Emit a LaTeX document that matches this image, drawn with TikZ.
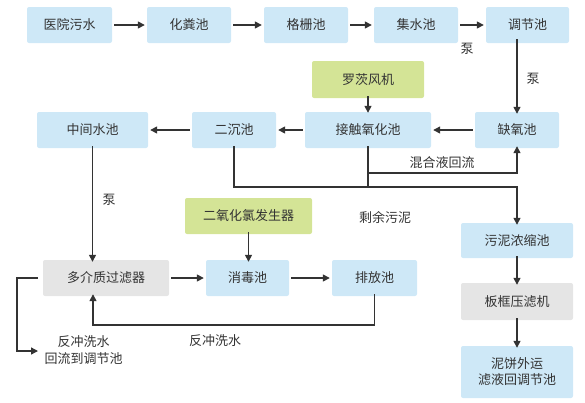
\documentclass[tikz,border=0pt]{standalone}
\usepackage{fontspec}
\setmainfont{Noto Sans CJK SC}
\usetikzlibrary{arrows.meta}
\definecolor{boxblue}{RGB}{206,232,247}
\definecolor{boxgreen}{RGB}{212,228,150}
\definecolor{boxgray}{RGB}{229,229,229}
\definecolor{ink}{RGB}{51,51,51}
\begin{document}
\begin{tikzpicture}[x=1pt,y=-1pt,
  base/.style={rectangle,rounded corners=2pt,minimum height=36pt,inner sep=0pt,
    font=\fontsize{13}{16}\selectfont,text=ink,align=center},
  bluebox/.style={base,fill=boxblue},
  greenbox/.style={base,fill=boxgreen},
  graybox/.style={base,fill=boxgray},
  lbl/.style={font=\fontsize{13}{17}\selectfont,text=ink,align=center,inner sep=0pt},
  conn/.style={draw=ink,line width=1.4pt},
  arr/.style={conn,-{Triangle[length=7pt,width=7pt]}}]
\useasboundingbox (0,0) rectangle (585,402);
% row 1
\node[bluebox,minimum width=85pt] (a1) at (69.5,25) {医院污水};
\node[bluebox,minimum width=84pt] (a2) at (189,25) {化粪池};
\node[bluebox,minimum width=84pt] (a3) at (306,25) {格栅池};
\node[bluebox,minimum width=84pt] (a4) at (416,25) {集水池};
\node[bluebox,minimum width=83pt] (a5) at (527.5,25) {调节池};
% fan
\node[greenbox,minimum width=112pt,minimum height=37pt] (fan) at (368,79.5) {罗茨风机};
% row 2
\node[bluebox,minimum width=126pt] (b1) at (368,130) {接触氧化池};
\node[bluebox,minimum width=84pt] (b2) at (517,130) {缺氧池};
\node[bluebox,minimum width=84pt] (b3) at (234,130) {二沉池};
\node[bluebox,minimum width=111pt] (b4) at (92.5,130) {中间水池};
% chlorine dioxide
\node[greenbox,minimum width=127pt] (clo) at (248.5,216) {二氧化氯发生器};
% row 3
\node[graybox,minimum width=126pt] (c1) at (106,278) {多介质过滤器};
\node[bluebox,minimum width=83pt] (c2) at (247.5,278) {消毒池};
\node[bluebox,minimum width=85pt] (c3) at (374.5,278) {排放池};
% sludge column
\node[bluebox,minimum width=112pt,minimum height=35pt] (d1) at (517,240.5) {污泥浓缩池};
\node[graybox,minimum width=112pt,minimum height=37pt] (d2) at (517,301.5) {板框压滤机};
\node[bluebox,minimum width=112pt,minimum height=52pt] (d3) at (517,372) {泥饼外运\\滤液回调节池};
% row 1 arrows
\draw[arr] ([xshift=2pt]a1.east) -- ([xshift=-2pt]a2.west);
\draw[arr] ([xshift=2pt]a2.east) -- ([xshift=-2pt]a3.west);
\draw[arr] ([xshift=2pt]a3.east) -- ([xshift=-2pt]a4.west);
\draw[arr] ([xshift=2pt]a4.east) -- ([xshift=-2pt]a5.west);
\node[lbl] (p1) at (467,49) {泵};
% 调节池 -> 缺氧池
\draw[arr] ([yshift=4pt]a5.south -| b2.north) -- ([yshift=-2pt]b2.north);
\node[lbl] (p2) at (533,79) {泵};
% fan
\draw[arr] ([yshift=2pt]fan.south) -- ([yshift=-1pt]b1.north);
% row 2 arrows
\draw[arr] ([xshift=-2pt]b2.west) -- ([xshift=2pt]b1.east);
\draw[arr] ([xshift=-2pt]b1.west) -- ([xshift=2pt]b3.east);
\draw[arr] ([xshift=-2pt]b3.west) -- ([xshift=2pt]b4.east);
% mixed liquor return and excess sludge
\coordinate (m1) at (368,173);
\coordinate (s1) at (368,187);
\draw[conn] ([yshift=2pt]b1.south) -- (s1);
\draw[arr] (m1) -| ([yshift=2pt]b2.south);
\node[lbl] (mix) at (442,163) {混合液回流};
\draw[arr] ([yshift=2pt]b3.south) |- (s1) -| ([yshift=-2pt]d1.north);
\node[lbl] (sl) at (385,217) {剩余污泥};
% sludge column arrows
\draw[arr] ([yshift=2pt]d1.south) -- ([yshift=-2pt]d2.north);
\draw[arr] ([yshift=2pt]d2.south) -- ([yshift=-2pt]d3.north);
% middle pool -> filter
\draw[arr] ([yshift=2pt]b4.south) -- ([yshift=-2pt]b4.south |- c1.north);
\node[lbl] (p3) at (109,200) {泵};
% clo2
\draw[arr] ([yshift=2pt]clo.south) -- ([yshift=-2pt]clo.south |- c2.north);
% row 3 arrows
\draw[arr] ([xshift=2pt]c1.east) -- ([xshift=-2pt]c2.west);
\draw[arr] ([xshift=2pt]c2.east) -- ([xshift=-2pt]c3.west);
% backwash
\coordinate (bw) at (93,325);
\draw[arr] ([yshift=2pt]c3.south) |- (bw) -- ([yshift=2pt]bw |- c1.south);
\node[lbl] (bwl) at (215,341) {反冲洗水};
% backwash return
\node[lbl] (ret) at (83.5,350) {反冲洗水\\回流到调节池};
\coordinate (rt) at (38,351);
\draw[arr] ([xshift=-5pt]c1.west) -- (17,278) |- (rt);
\end{tikzpicture}
\end{document}
